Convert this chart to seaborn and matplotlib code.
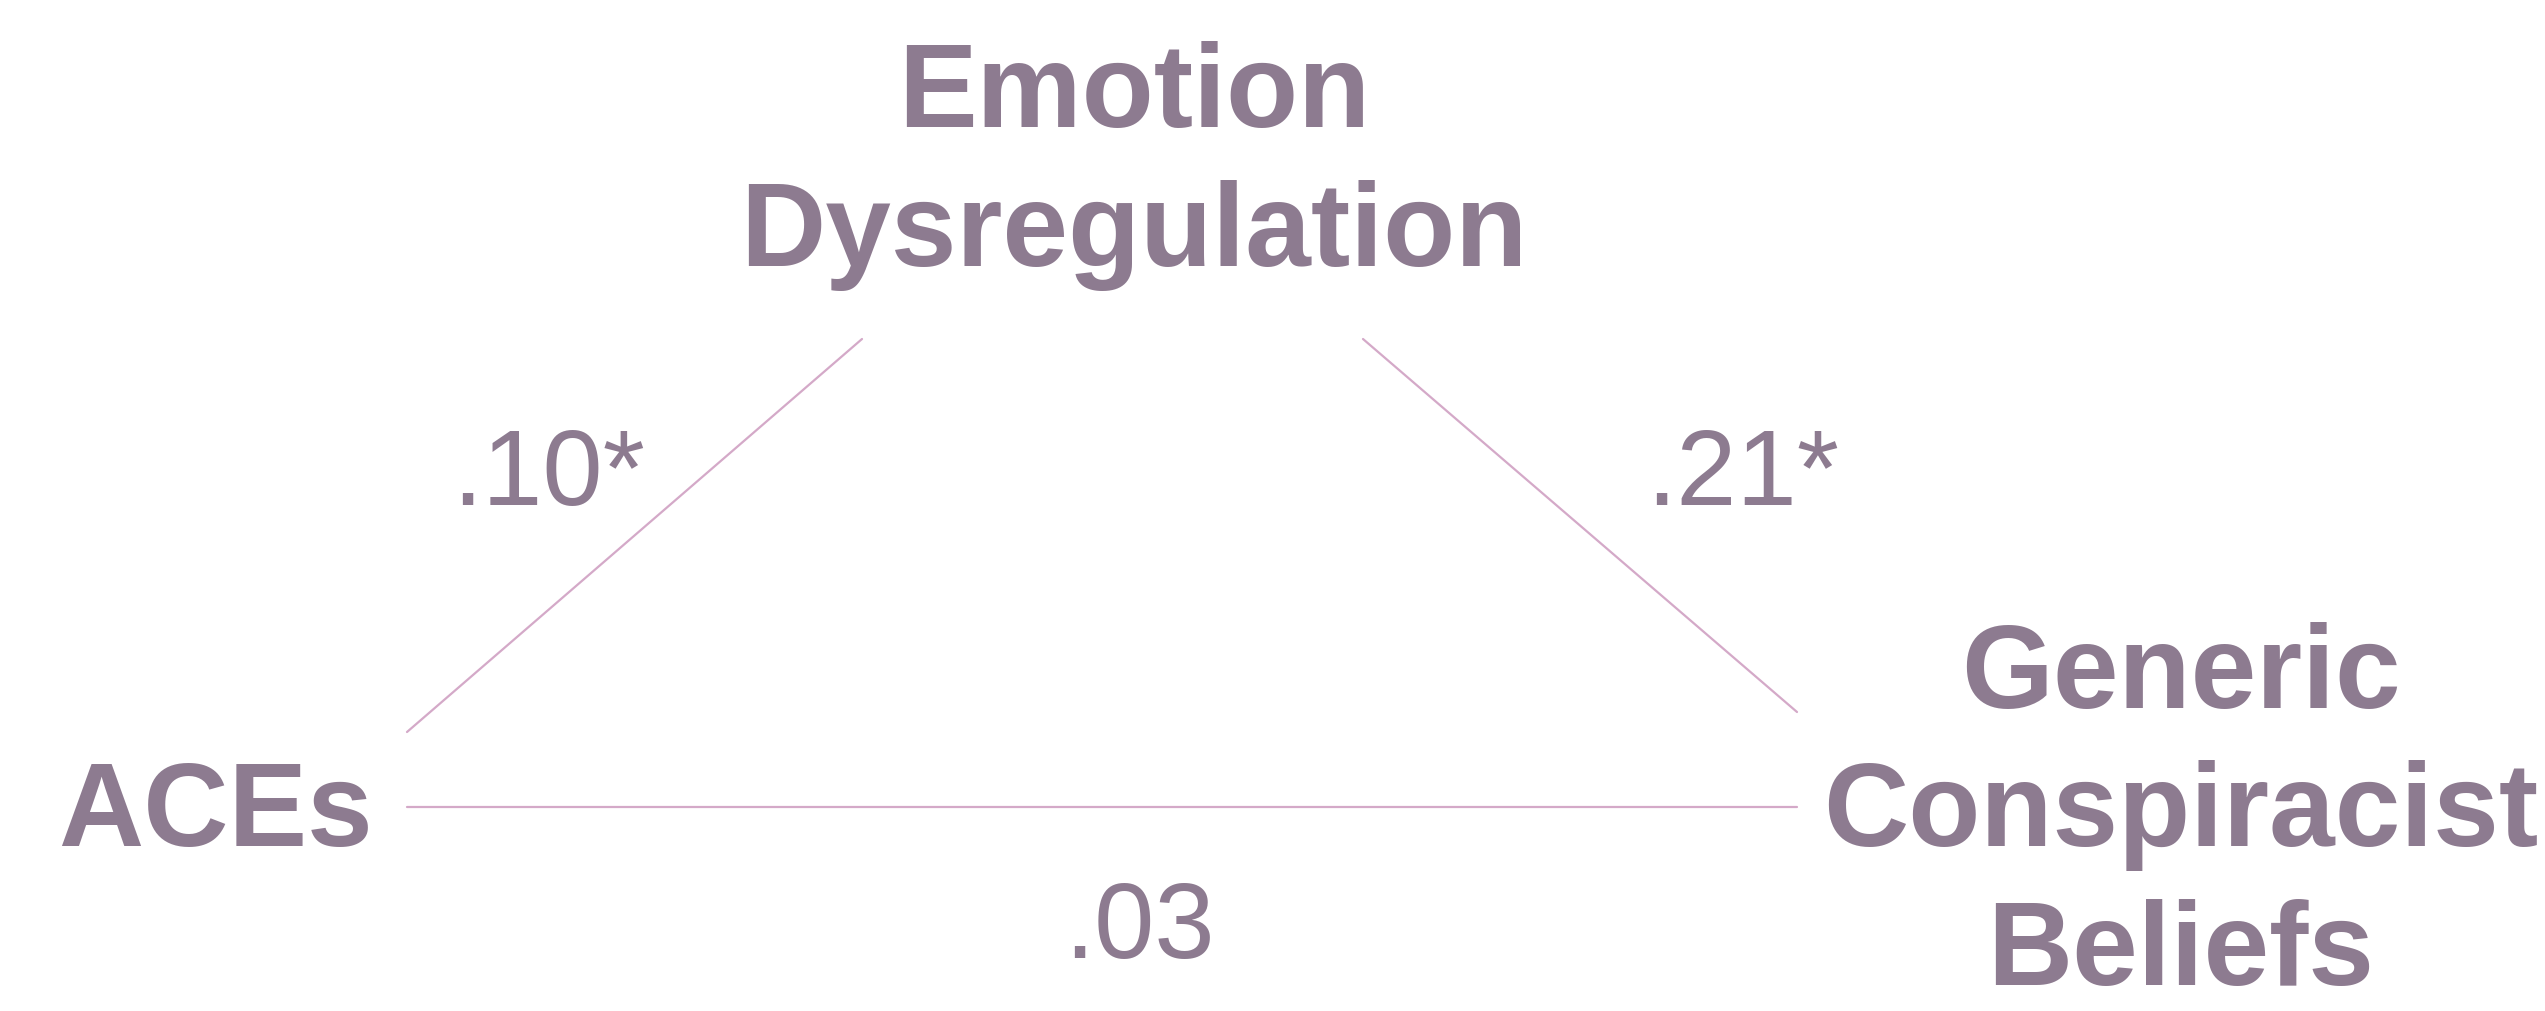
import matplotlib
matplotlib.use("Agg")
import matplotlib.pyplot as plt
import seaborn as sns
import pandas as pd

# nodes of the mediation model (pixel layout of the original slide, y downwards)
node_labels = ["ACEs", "Emotion\nDysregulation", "Generic\nConspiracist\nBeliefs"]
node_x = [215, 1134, 2181]
node_y = [846, 266, 985]          # baseline of the last text line

# paths: a (ACEs -> ED), b (ED -> GCB), c' (ACEs -> GCB)
path_names = ["a", "b", "c"]
path_x0 = [407, 1363, 407]
path_y0 = [732, 339, 807]
path_x1 = [862, 1797, 1797]
path_y1 = [339, 712, 807]
coef_labels = [".10*", ".21*", ".03"]
coef_x = [549, 1743, 1139]
coef_y = [505, 505, 958]

text_color = "#8d7b90"
line_color = "#d4a9c8"

sns.set_theme(style="white")
plt.rcParams["font.family"] = ["Liberation Sans", "DejaVu Sans"]

fig = plt.figure(figsize=(25.45, 10.11), dpi=100)
ax = fig.add_axes([0, 0, 1, 1])

edges = pd.DataFrame({
    "path": path_names * 2,
    "x": path_x0 + path_x1,
    "y": path_y0 + path_y1,
})
sns.lineplot(data=edges, x="x", y="y", units="path", estimator=None,
             color=line_color, linewidth=1.6, sort=False, ax=ax)

for lab, x, y in zip(node_labels, node_x, node_y):
    ax.text(x, y, lab, ha="center", va="baseline", fontsize=85,
            fontweight="bold", color=text_color, linespacing=1.32,
            multialignment="center")

for lab, x, y in zip(coef_labels, coef_x, coef_y):
    ax.text(x, y, lab, ha="center", va="baseline", fontsize=78,
            color=text_color)

ax.set_xlim(0, 2545)
ax.set_ylim(1011, 0)
ax.axis("off")

fig.savefig("out.png", dpi=100, facecolor="white")
